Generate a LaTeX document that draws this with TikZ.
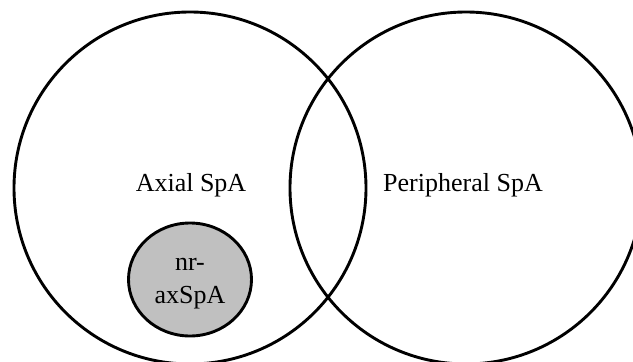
\documentclass[tikz,border=0pt]{standalone}
\usepackage{fontspec}
\setmainfont{Liberation Serif}
\usetikzlibrary{shapes.geometric}
\definecolor{setgray}{HTML}{C0C0C0}
\tikzset{
  setcircle/.style={draw=black, line width=2.9pt, circle, inner sep=0pt, minimum size=#1},
  subset/.style={draw=black, line width=2.9pt, ellipse, inner sep=0pt, fill=setgray, minimum width=123pt, minimum height=113pt},
  lab/.style={font=\fontsize{26}{30}\selectfont, inner sep=0pt, anchor=base}
}
\begin{document}
\begin{tikzpicture}[x=1pt,y=-1pt]
\useasboundingbox (0,0) rectangle (633,362);
\fill[white] (0,0) rectangle (633,362);
\clip (0,0) rectangle (633,362);
\node[setcircle=352pt] (axial) at (190,188) {};
\node[setcircle=352pt] (periph) at (466,188) {};
\node[subset] (nr) at (190,279.5) {};
\node[lab] (axlab) at (191,191) {Axial SpA};
\node[lab] (perlab) at (463,191) {Peripheral SpA};
\node[lab] (nrlab1) at (190,270) {nr-};
\node[lab] (nrlab2) at (190,303) {axSpA};
\end{tikzpicture}
\end{document}
